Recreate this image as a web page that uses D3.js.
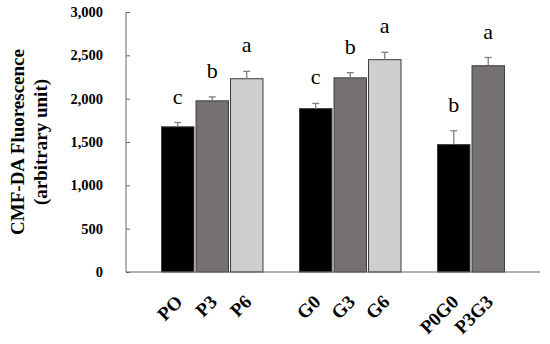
<!DOCTYPE html>
<html>
<head>
<meta charset="utf-8">
<script src="https://cdn.jsdelivr.net/npm/d3@7"></script>
<style>
  body { margin: 0; background: #fff; }
  svg { display: block; }
  text { font-family: "Liberation Serif", "Times New Roman", serif; }
</style>
</head>
<body>
<script>
// slots along x; s0..s3 are the empty spacer slots between groups
var slots = ["s0", "PO", "P3", "P6", "s1", "G0", "G3", "G6", "s2", "P0G0", "P3G3", "s3"];
var names = ["PO", "P3", "P6", "G0", "G3", "G6", "P0G0", "P3G3"];
var values = [1675, 1975, 2230, 1885, 2240, 2450, 1470, 2380];
var errors = [50, 45, 85, 60, 60, 85, 160, 95];
var letters = ["c", "b", "a", "c", "b", "a", "b", "a"];
var shades = ["black", "dark", "light", "black", "dark", "light", "black", "dark"];
var yTicks = [0, 500, 1000, 1500, 2000, 2500, 3000];

var W = 550, H = 344;
// note: "top" is taken by window.top, so plot edges get their own names
var plotLeft = 126, plotRight = 540, plotTop = 12, plotBottom = 272;

var fill = { black: "#000000", dark: "#767171", light: "#d0cece" };

var svg = d3.select("body").append("svg")
    .attr("width", W)
    .attr("height", H);

var x = d3.scaleBand().domain(slots).range([plotLeft, plotRight]).paddingInner(0.06).paddingOuter(0.03);
var y = d3.scaleLinear().domain([0, 3000]).range([plotBottom, plotTop]);

// y axis: line + inside ticks
var yAxis = svg.append("g").attr("transform", "translate(" + plotLeft + ",0)")
    .call(d3.axisRight(y).tickValues(yTicks).tickSize(4).tickFormat(""));
yAxis.select(".domain").attr("stroke", "#666").attr("d", "M0," + plotTop + "V" + plotBottom);
yAxis.selectAll(".tick line").attr("stroke", "#666");

yTicks.forEach(function(t) {
    svg.append("text")
        .attr("x", 103)
        .attr("y", y(t))
        .attr("dy", "0.35em")
        .attr("text-anchor", "end")
        .attr("font-weight", "bold")
        .attr("font-size", 14.5)
        .text(d3.format(",")(t));
});

// bars
var data = names.map(function(n, i) {
    return { name: n, value: values[i], err: errors[i], letter: letters[i], shade: shades[i] };
});

svg.selectAll("rect.bar").data(data).enter().append("rect")
    .attr("class", "bar")
    .attr("x", function(d) { return x(d.name); })
    .attr("y", function(d) { return y(d.value); })
    .attr("width", x.bandwidth())
    .attr("height", function(d) { return y(0) - y(d.value); })
    .attr("fill", function(d) { return fill[d.shade]; })
    .attr("stroke", "#3a3a3a")
    .attr("stroke-width", 1);

// error bars (upper only)
var eb = svg.selectAll("g.err").data(data).enter().append("g").attr("class", "err")
    .attr("stroke", "#808080").attr("stroke-width", 1.3);
eb.append("line")
    .attr("x1", function(d) { return x(d.name) + x.bandwidth() / 2; })
    .attr("x2", function(d) { return x(d.name) + x.bandwidth() / 2; })
    .attr("y1", function(d) { return y(d.value); })
    .attr("y2", function(d) { return y(d.value + d.err); });
eb.append("line")
    .attr("x1", function(d) { return x(d.name) + x.bandwidth() / 2 - 3.5; })
    .attr("x2", function(d) { return x(d.name) + x.bandwidth() / 2 + 3.5; })
    .attr("y1", function(d) { return y(d.value + d.err); })
    .attr("y2", function(d) { return y(d.value + d.err); });

// significance letters
svg.selectAll("text.sig").data(data).enter().append("text")
    .attr("class", "sig")
    .attr("x", function(d) { return x(d.name) + x.bandwidth() / 2; })
    .attr("y", function(d) { return y(d.value + d.err) - 19; })
    .attr("text-anchor", "middle")
    .attr("font-size", 22)
    .text(function(d) { return d.letter; });

// x axis line
svg.append("line")
    .attr("x1", plotLeft).attr("x2", plotRight)
    .attr("y1", y(0)).attr("y2", y(0))
    .attr("stroke", "#666").attr("stroke-width", 1.2);

// rotated category labels
svg.selectAll("text.cat").data(data).enter().append("text")
    .attr("class", "cat")
    .attr("text-anchor", "end")
    .attr("transform", function(d) {
        return "translate(" + (x(d.name) + x.bandwidth() / 2 + 6) + "," + 303 + ") rotate(-45)";
    })
    .attr("font-weight", "bold")
    .attr("font-size", 19)
    .text(function(d) { return d.name; });

// y title
var title = svg.append("text")
    .attr("transform", "translate(24,142) rotate(-90)")
    .attr("text-anchor", "middle")
    .attr("font-weight", "bold")
    .attr("font-size", 19);
title.append("tspan").attr("x", 0).attr("y", 0).text("CMF-DA Fluorescence");
title.append("tspan").attr("x", 0).attr("y", 23).text("(arbitrary unit)");
</script>
</body>
</html>
